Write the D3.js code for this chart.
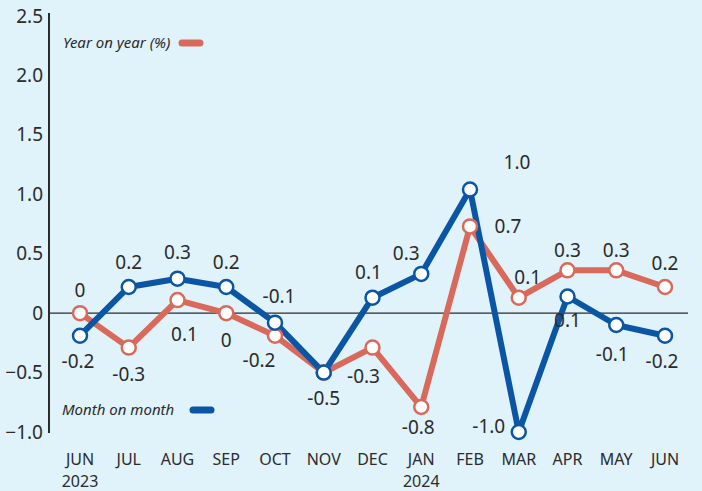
<!DOCTYPE html>
<html>
<head>
<meta charset="utf-8">
<script src="https://cdn.jsdelivr.net/npm/d3@7"></script>
<style>
  body { margin: 0; background: #e0f2fa; }
  svg text { font-family: "Noto Sans", "Open Sans", sans-serif; fill: #2b2b2b; }
</style>
</head>
<body>
<div id="chart"></div>
<script>
// months along the bottom
var months = ['JUN', 'JUL', 'AUG', 'SEP', 'OCT', 'NOV', 'DEC', 'JAN', 'FEB', 'MAR', 'APR', 'MAY', 'JUN'];
var years = ['2023', '', '', '', '', '', '', '2024', '', '', '', '', ''];

// plotted values (unrounded)
var yoyValues = [0, -0.29, 0.11, 0, -0.19, -0.5, -0.29, -0.79, 0.73, 0.13, 0.36, 0.36, 0.22];
var momValues = [-0.19, 0.22, 0.29, 0.22, -0.08, -0.5, 0.13, 0.33, 1.04, -1.0, 0.14, -0.1, -0.19];

// labels as printed
var yoyLabels = ['0', '-0.3', '0.1', '0', '-0.2', '', '-0.3', '-0.8', '0.7', '0.1', '0.3', '0.3', '0.2'];
var momLabels = ['-0.2', '0.2', '0.3', '0.2', '-0.1', '-0.5', '0.1', '0.3', '1.0', '-1.0', '0.1', '-0.1', '-0.2'];

var yTicks = [2.5, 2.0, 1.5, 1.0, 0.5, 0, -0.5, -1.0];

// label offsets from their point [dx, dy]
var yoyOffsets = [[0,-23],[0,27],[7,34],[0,27],[-16,25],[0,0],[-9,29],[-3,20],[38,0],[9,-20],[0,-20],[0,-20],[0,-24]];
var momOffsets = [[-2,26],[0,-25],[0,-26],[0,-25],[4,-26],[0,26],[-4,-25],[-15,-21],[47,-27],[-30,-6],[0,24],[-4,29],[-3,26]];

var width = 702, height = 491;
var red = '#d9695b', blue = '#0b56a4';

var svg = d3.select('#chart').append('svg')
  .attr('width', width)
  .attr('height', height);

var x = d3.scalePoint()
  .domain(d3.range(months.length))
  .range([80, 665]);

var y = d3.scaleLinear()
  .domain([-1.0, 2.5])
  .range([432, 16]);

// y axis
var yAxis = svg.append('g')
  .attr('transform', 'translate(49,0)')
  .call(d3.axisLeft(y).tickValues(yTicks).tickSize(0).tickPadding(6)
    .tickFormat(function(d) { return d === 0 ? '0' : d3.format('.1f')(d); }));
yAxis.select('.domain').attr('stroke', '#2b2b2b').attr('stroke-width', 2)
  .attr('d', 'M0,' + (y(2.5) - 3) + 'V' + (y(-1.0) + 1));
yAxis.selectAll('text').style('font-size', '19px').attr('fill', '#2b2b2b');

// zero line
svg.append('line')
  .attr('x1', 49).attr('x2', 688)
  .attr('y1', y(0)).attr('y2', y(0))
  .attr('stroke', '#2b2b2b').attr('stroke-width', 1.3);

// x labels
var xl = svg.append('g');
months.forEach(function(m, i) {
  xl.append('text').attr('x', x(i)).attr('y', 465)
    .attr('text-anchor', 'middle').style('font-size', '16px').text(m);
  if (years[i]) {
    xl.append('text').attr('x', x(i)).attr('y', 487)
      .attr('text-anchor', 'middle').style('font-size', '16px').text(years[i]);
  }
});

var line = d3.line()
  .x(function(d, i) { return x(i); })
  .y(function(d) { return y(d); });

function drawSeries(values, color) {
  svg.append('path')
    .datum(values)
    .attr('d', line)
    .attr('fill', 'none')
    .attr('stroke', color)
    .attr('stroke-width', 6)
    .attr('stroke-linejoin', 'round');
}

function drawDots(values, color) {
  svg.append('g').selectAll('circle')
    .data(values)
    .enter()
    .append('circle')
      .attr('cx', function(d, i) { return x(i); })
      .attr('cy', function(d) { return y(d); })
      .attr('r', 7)
      .attr('fill', 'white')
      .attr('stroke', color)
      .attr('stroke-width', 2.5);
}

function drawLabels(values, labels, offsets) {
  svg.append('g').selectAll('text')
    .data(values)
    .enter()
    .append('text')
      .attr('x', function(d, i) { return x(i) + offsets[i][0]; })
      .attr('y', function(d, i) { return y(d) + offsets[i][1]; })
      .attr('dy', '0.35em')
      .attr('text-anchor', 'middle')
      .style('font-size', '19px')
      .text(function(d, i) { return labels[i]; });
}

drawSeries(yoyValues, red);
drawSeries(momValues, blue);
drawDots(yoyValues, red);
drawDots(momValues, blue);
drawLabels(yoyValues, yoyLabels, yoyOffsets);
drawLabels(momValues, momLabels, momOffsets);

// legends
function legend(text, color, lx, ly, sx) {
  svg.append('text').attr('x', lx).attr('y', ly).attr('dy', '0.35em')
    .style('font-size', '15px').style('font-style', 'italic').text(text);
  svg.append('line')
    .attr('x1', sx).attr('x2', sx + 18).attr('y1', ly).attr('y2', ly)
    .attr('stroke', color).attr('stroke-width', 7).attr('stroke-linecap', 'round');
}
legend('Year on year (%)', red, 63, 43, 182);
legend('Month on month', blue, 62, 410, 193);
</script>
</body>
</html>
